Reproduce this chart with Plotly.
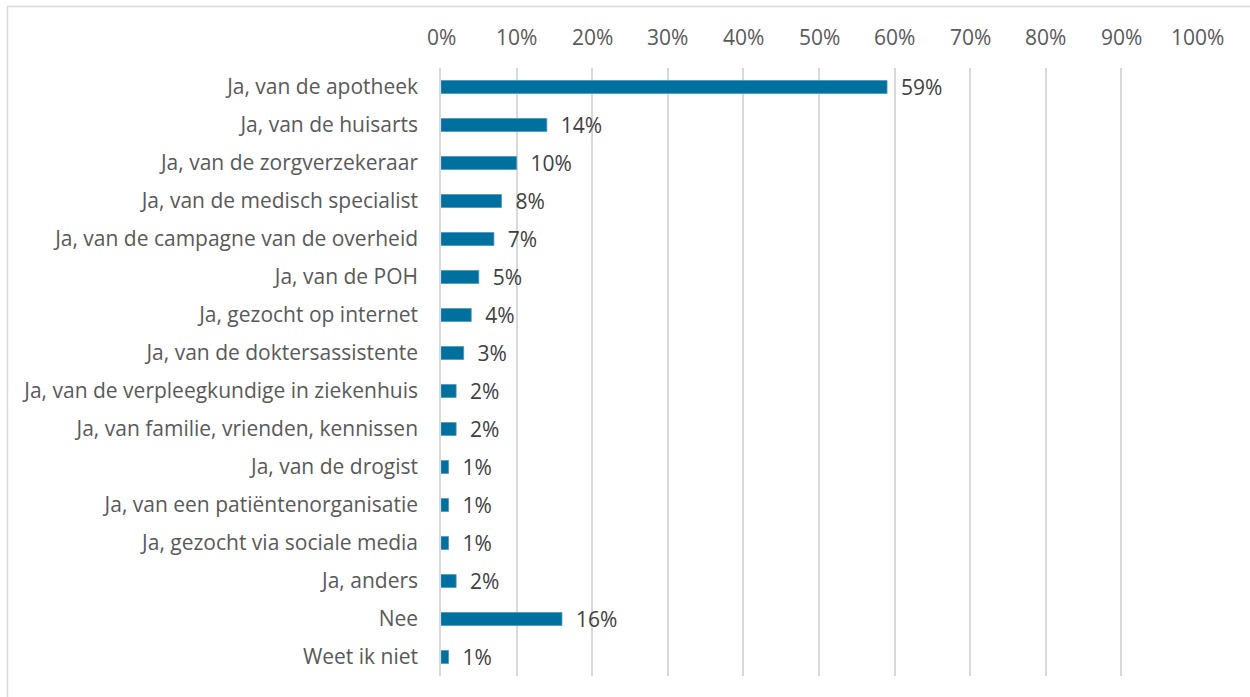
import plotly.graph_objects as go

categories = [
    "Ja, van de apotheek",
    "Ja, van de huisarts",
    "Ja, van de zorgverzekeraar",
    "Ja, van de medisch specialist",
    "Ja, van de campagne van de overheid",
    "Ja, van de POH",
    "Ja, gezocht op internet",
    "Ja, van de doktersassistente",
    "Ja, van de verpleegkundige in ziekenhuis",
    "Ja, van familie, vrienden, kennissen",
    "Ja, van de drogist",
    "Ja, van een patiëntenorganisatie",
    "Ja, gezocht via sociale media",
    "Ja, anders",
    "Nee",
    "Weet ik niet",
]
values = [59, 14, 10, 8, 7, 5, 4, 3, 2, 2, 1, 1, 1, 2, 16, 1]
tick_values = list(range(0, 101, 10))
tick_labels = [f"{t}%" for t in tick_values]

FONT = "'Open Sans', sans-serif"
SIZE = 21

fig = go.Figure(
    go.Bar(
        y=categories,
        x=values,
        orientation="h",
        marker=dict(color="#00709F", line=dict(color="#4A97BD", width=0.8)),
        width=0.34,
        text=[f"  {v}%" for v in values],
        textposition="outside",
        constraintext="none",
        textfont=dict(family=FONT, size=SIZE, color="#404040"),
        cliponaxis=False,
        hoverinfo="skip",
    )
)

# Percentage scale labels sit above the plot area
tick_annotations = [
    dict(
        x=v,
        y=1,
        xref="x",
        yref="paper",
        text=lab,
        showarrow=False,
        xanchor="center",
        yanchor="middle",
        yshift=31,
        font=dict(family=FONT, size=SIZE, color="#595959"),
    )
    for v, lab in zip(tick_values, tick_labels)
]

fig.update_layout(
    width=1250,
    height=697,
    margin=dict(l=441, r=53, t=68, b=21),
    paper_bgcolor="white",
    plot_bgcolor="white",
    showlegend=False,
    font=dict(family=FONT, size=SIZE, color="#595959"),
    xaxis=dict(
        range=[0, 100],
        side="top",
        tickvals=tick_values,
        showticklabels=False,
        showgrid=True,
        gridcolor="#D9D9D9",
        gridwidth=1.5,
        zeroline=False,
        showline=False,
        ticks="",
        fixedrange=True,
    ),
    yaxis=dict(
        autorange="reversed",
        showline=True,
        linecolor="#D9D9D9",
        linewidth=1.5,
        showgrid=False,
        ticks="",
        ticklabelstandoff=17,
        tickfont=dict(family=FONT, size=SIZE, color="#595959"),
        fixedrange=True,
    ),
    annotations=tick_annotations,
    shapes=[
        dict(
            type="rect",
            xref="paper",
            yref="paper",
            x0=(7.5 - 441) / 756,
            x1=(1270 - 441) / 756,
            y0=(676 - 720) / 608,
            y1=(676 - 6.5) / 608,
            line=dict(color="#D9D9D9", width=1.5),
            fillcolor="rgba(0,0,0,0)",
            layer="below",
        )
    ],
)

fig.write_html("out.html")
